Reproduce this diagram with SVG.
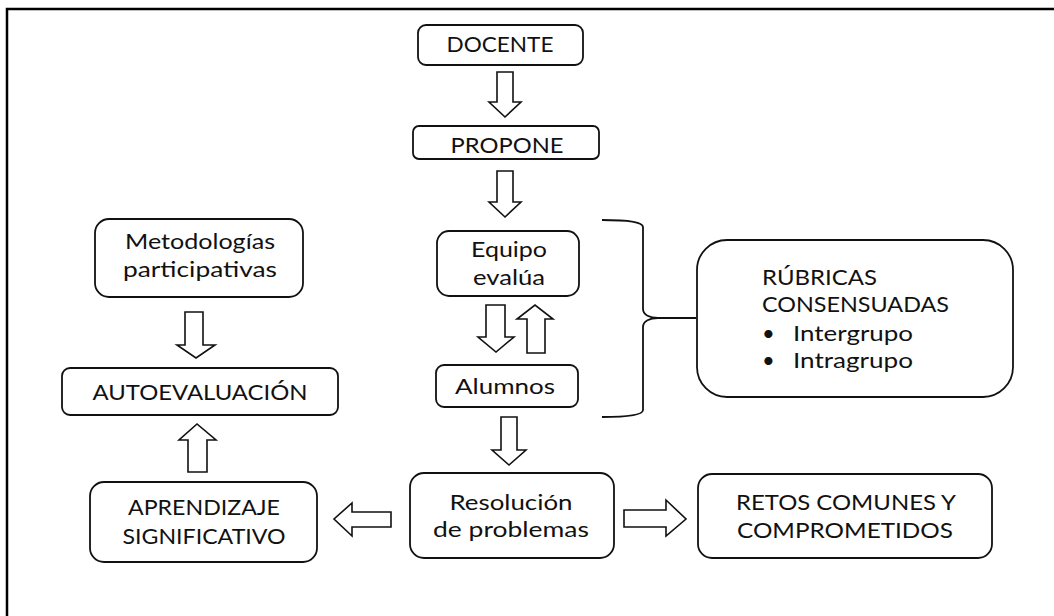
<svg xmlns="http://www.w3.org/2000/svg" width="1054" height="616" viewBox="0 0 1054 616">
<style>
.box{fill:#fff;stroke:#111;stroke-width:1.8}
.arr{fill:#fff;stroke:#111;stroke-width:1.6;stroke-linejoin:miter}
.t{font-family:Lato,"Open Sans","Liberation Sans",sans-serif;font-size:22px;fill:#111}
.c{text-anchor:middle}
.line{fill:none;stroke:#111;stroke-width:1.8}
</style>
<rect width="1054" height="616" fill="#fff"/>
<path d="M7,616 L7,9 L1054,9" fill="none" stroke="#000" stroke-width="2.5"/>

<g id="docente"><rect class="box" x="418" y="25" width="165" height="40" rx="8"/><text class="t c" x="500" y="52" textLength="107" lengthAdjust="spacingAndGlyphs">DOCENTE</text></g>
<g id="propone"><rect class="box" x="413" y="126" width="186" height="33" rx="6"/><text class="t c" x="507" y="153" textLength="113" lengthAdjust="spacingAndGlyphs">PROPONE</text></g>
<g id="equipo"><rect class="box" x="437" y="231" width="142" height="65" rx="12"/><text class="t c" x="509" y="257" textLength="76" lengthAdjust="spacingAndGlyphs">Equipo</text><text class="t c" x="509" y="285" textLength="72" lengthAdjust="spacingAndGlyphs">evalúa</text></g>
<g id="alumnos"><rect class="box" x="436" y="365" width="142" height="42" rx="8"/><text class="t c" x="505" y="394" textLength="100" lengthAdjust="spacingAndGlyphs">Alumnos</text></g>
<g id="metodologias"><rect class="box" x="95" y="219" width="208" height="78" rx="14"/><text class="t c" x="200" y="249" textLength="150" lengthAdjust="spacingAndGlyphs">Metodologías</text><text class="t c" x="200" y="277" textLength="154" lengthAdjust="spacingAndGlyphs">participativas</text></g>
<g id="autoevaluacion"><rect class="box" x="62" y="368" width="276" height="47" rx="8"/><text class="t c" x="200" y="400" textLength="215" lengthAdjust="spacingAndGlyphs">AUTOEVALUACIÓN</text></g>
<g id="aprendizaje"><rect class="box" x="90" y="482" width="227" height="80" rx="14"/><text class="t c" x="204" y="515" textLength="152" lengthAdjust="spacingAndGlyphs">APRENDIZAJE</text><text class="t c" x="204" y="544" textLength="163" lengthAdjust="spacingAndGlyphs">SIGNIFICATIVO</text></g>
<g id="resolucion"><rect class="box" x="410" y="473" width="204" height="85" rx="14"/><text class="t c" x="511" y="510" textLength="123" lengthAdjust="spacingAndGlyphs">Resolución</text><text class="t c" x="511" y="537" textLength="156" lengthAdjust="spacingAndGlyphs">de problemas</text></g>
<g id="retos"><rect class="box" x="698" y="474" width="294" height="84" rx="14"/><text class="t c" x="846" y="510" textLength="220" lengthAdjust="spacingAndGlyphs">RETOS COMUNES Y</text><text class="t c" x="845" y="538" textLength="216" lengthAdjust="spacingAndGlyphs">COMPROMETIDOS</text></g>
<g id="rubricas"><rect class="box" x="697" y="240" width="316" height="157" rx="30"/>
<text class="t" x="762" y="285" textLength="115" lengthAdjust="spacingAndGlyphs">RÚBRICAS</text><text class="t" x="762" y="312" textLength="187" lengthAdjust="spacingAndGlyphs">CONSENSUADAS</text>
<text class="t" x="762" y="341">•</text><text class="t" x="793" y="341" textLength="120" lengthAdjust="spacingAndGlyphs">Intergrupo</text>
<text class="t" x="762" y="368">•</text><text class="t" x="793" y="368" textLength="120" lengthAdjust="spacingAndGlyphs">Intragrupo</text></g>

<g id="connectors">
<path class="arr" d="M497,72 L513,72 L513,102 L521,102 L505,117 L489,102 L497,102 Z"/>
<path class="arr" d="M497,171 L513,171 L513,202 L521,202 L505,217 L489,202 L497,202 Z"/>
<path class="arr" d="M486,305 L505,305 L505,337 L514,337 L496,352 L478,337 L486,337 Z"/>
<path class="arr" d="M527,353 L545,353 L545,319 L553,319 L535,305 L517,319 L527,319 Z"/>
<path class="arr" d="M501,417 L517,417 L517,450 L526,450 L509,465 L492,450 L501,450 Z"/>
<path class="arr" d="M185,312 L203,312 L203,345 L215,345 L196,358 L177,345 L185,345 Z"/>
<path class="arr" d="M188,472 L207,472 L207,440 L216,440 L197,424 L179,440 L188,440 Z"/>
<path class="arr" d="M391,512 L391,527 L352,527 L352,536 L334,519 L352,503 L352,512 Z"/>
<path class="arr" d="M624,510 L624,527 L666,527 L666,536 L686,519 L666,500 L666,510 Z"/>
<path class="line" d="M602,220 C628,220 643,222 643,227 L643,309 C643,315 650,318 658,318 L696,318 M658,318 C650,318 643,321 643,327 L643,410 C643,415 628,417 602,417"/>
</g>
</svg>
